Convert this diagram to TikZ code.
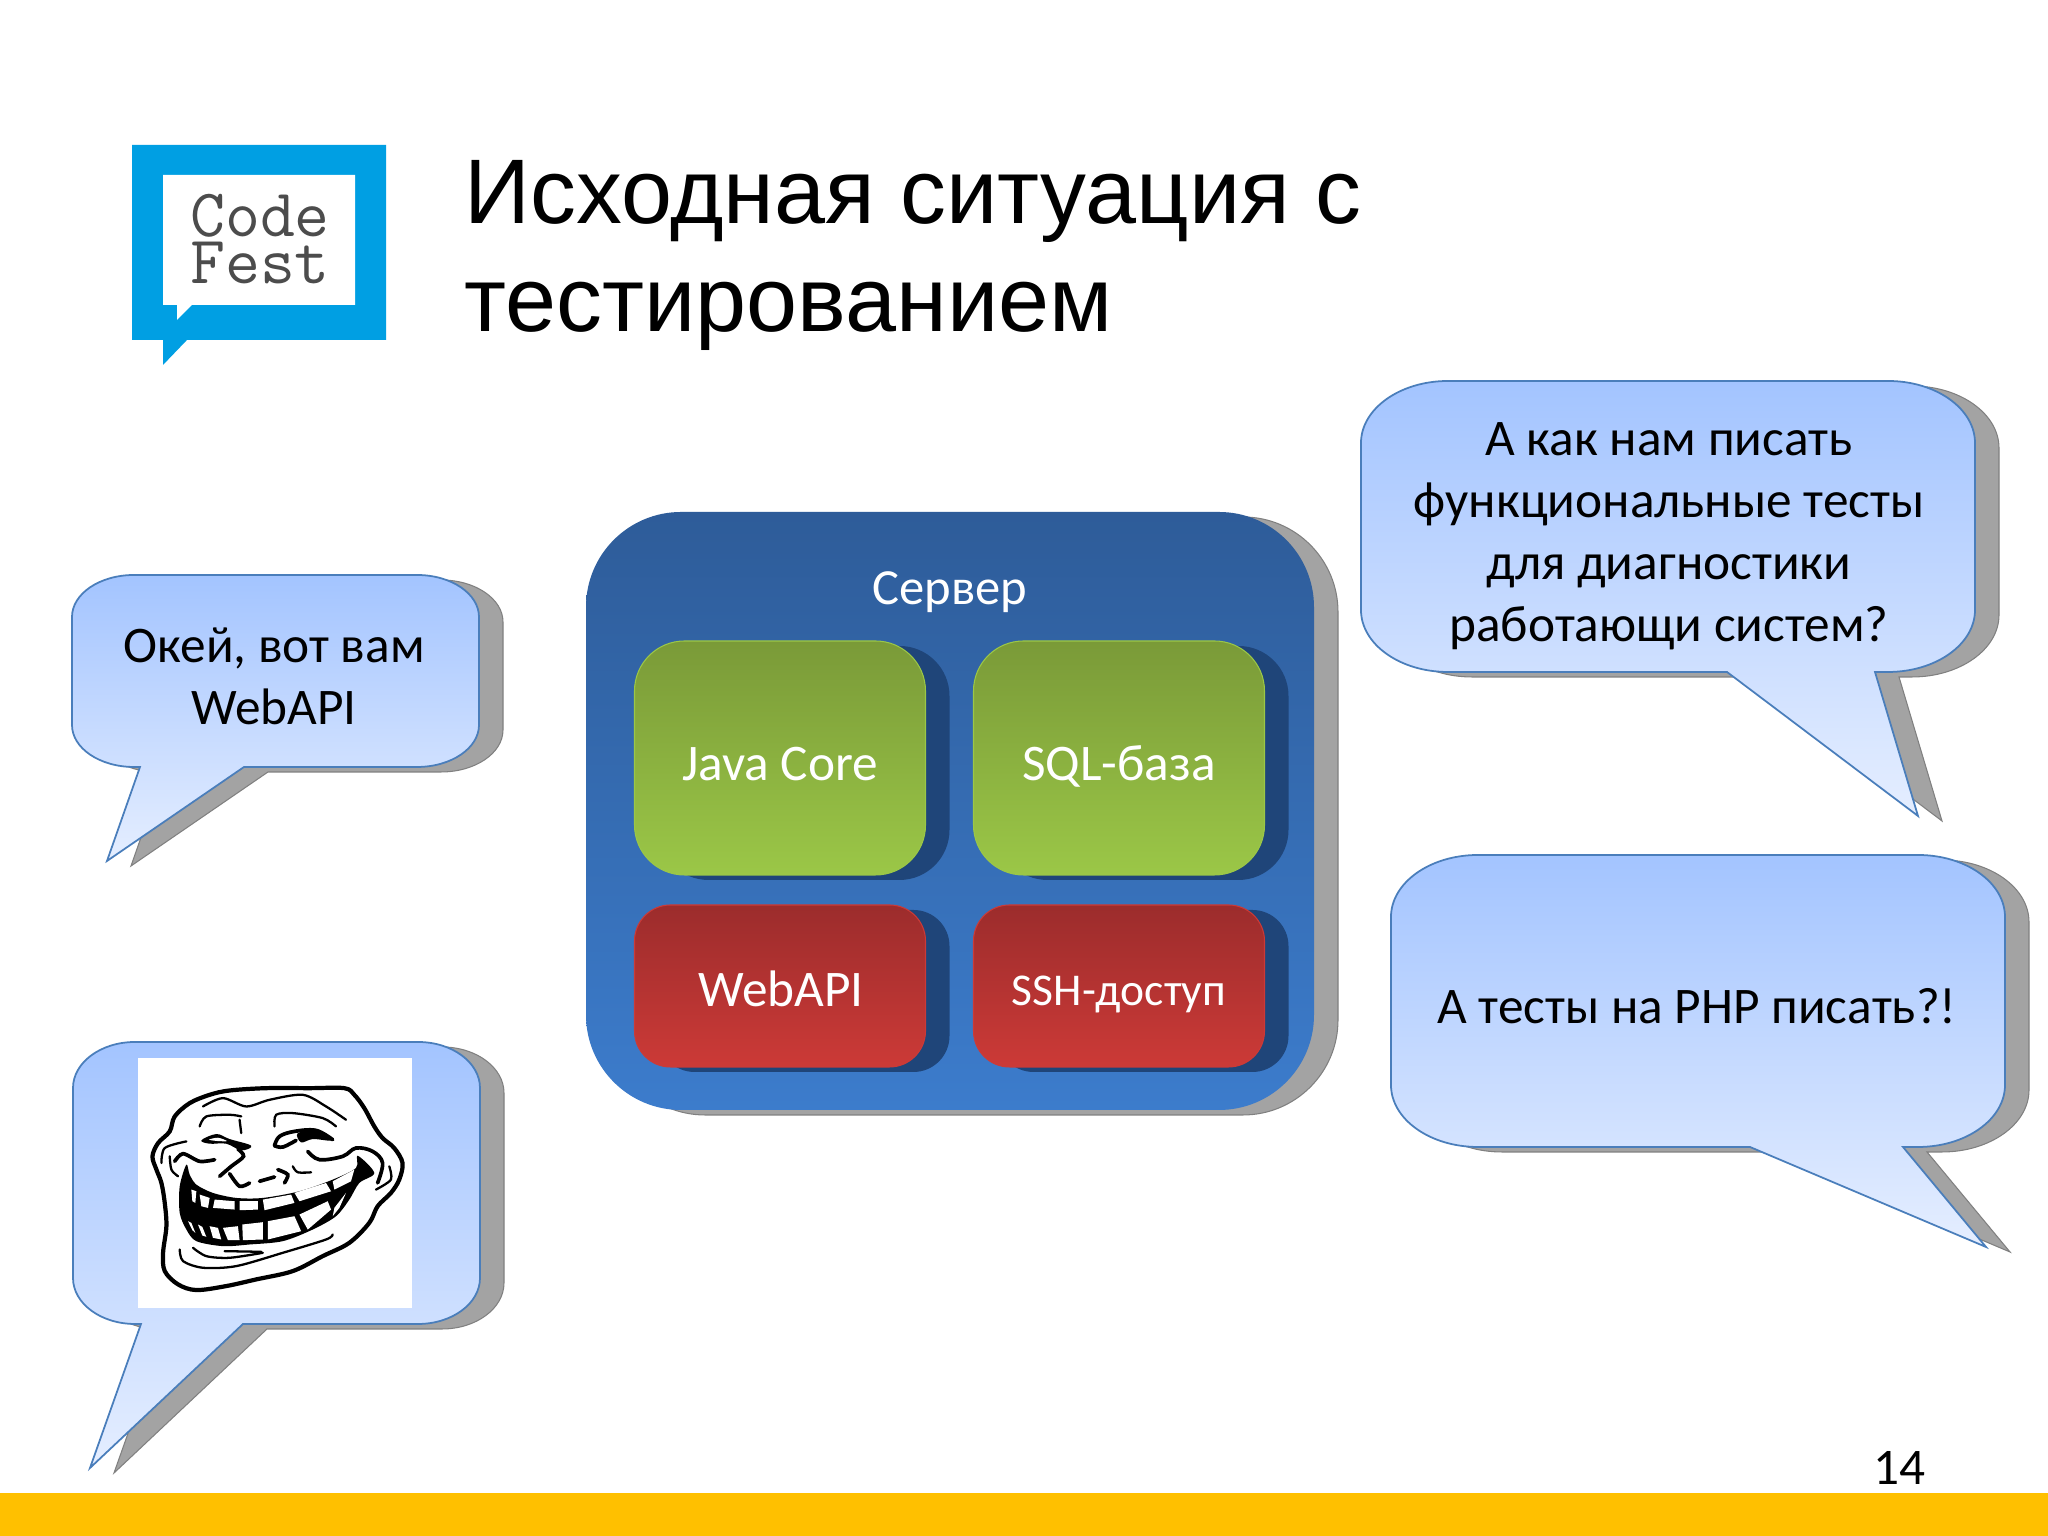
\documentclass[tikz,border=0pt]{standalone}
\usepackage{fontspec}
\usepackage{xcolor}
\setmainfont{Carlito}
\newfontfamily\titlefont{Liberation Sans}

\definecolor{logoblue}{HTML}{009FE3}
\definecolor{barcolor}{HTML}{FFC000}
\definecolor{bubbleline}{HTML}{4A7EBB}
\definecolor{bubbletop}{HTML}{A3C4FF}
\definecolor{bubblebottom}{HTML}{E5EEFF}
\definecolor{greyshadow}{HTML}{A3A3A3}
\definecolor{serverdark}{HTML}{2E5C99}
\definecolor{serverlight}{HTML}{3C7CCC}
\definecolor{navyshadow}{HTML}{1F4579}
\definecolor{greendark}{HTML}{7A9A38}
\definecolor{greenlight}{HTML}{9BC747}
\definecolor{reddark}{HTML}{9C2C2C}
\definecolor{redlight}{HTML}{CC3A37}

\tikzset{
  bodytext/.style={font=\fontsize{14.6}{17.6}\selectfont,align=center,inner sep=0},
  whitetext/.style={bodytext,text=white},
  bubbleshape/.style={draw=bubbleline,line width=.5pt,top color=bubbletop,bottom color=bubblebottom},
  bubbleshadow/.style={draw=gray,line width=.3pt,fill=greyshadow},
  serverbox/.style={rectangle,rounded corners=.95cm,inner sep=0,minimum width=7.28cm,minimum height=5.98cm},
  greenbox/.style={rectangle,rounded corners=.5cm,inner sep=0,minimum width=2.91cm,minimum height=2.34cm},
  redbox/.style={rectangle,rounded corners=.36cm,inner sep=0,minimum width=2.91cm,minimum height=1.62cm},
  greenfill/.style={top color=greendark,bottom color=greenlight,draw=greenlight,line width=.3pt},
  redfill/.style={top color=reddark,bottom color=redlight,draw=redlight,line width=.3pt},
  thickface/.style={line width=1.2pt,black,line join=round},
  midface/.style={line width=1.05pt,black,line cap=round},
  thinface/.style={line width=.65pt,black,line cap=round},
  tooth/.style={fill=white,draw=none}
}

% left, bottom, right, top, tail start, tip, tail end, x radius, y radius
\newcommand{\bubblepath}[9]{
  (#1+#8,#4) -- (#3-#8,#4)
  arc[start angle=90,end angle=0,x radius=#8,y radius=#9] -- (#3,#2+#9)
  arc[start angle=0,end angle=-90,x radius=#8,y radius=#9] -- (#7,#2) -- (#6) -- (#5,#2) -- (#1+#8,#2)
  arc[start angle=270,end angle=180,x radius=#8,y radius=#9] -- (#1,#4-#9)
  arc[start angle=180,end angle=90,x radius=#8,y radius=#9] -- cycle
}

\begin{document}
\begin{tikzpicture}
\useasboundingbox (0,0) rectangle (20.48,15.36);
\fill[white] (0,0) rectangle (20.48,15.36);
\fill[barcolor] (0,0) rectangle (20.48,.43);

\fill[logoblue] (1.32,13.91) -- (3.86,13.91) -- (3.86,11.96) -- (1.87,11.96) -- (1.63,11.71) -- (1.63,11.96) -- (1.32,11.96) -- cycle;
\fill[white] (1.63,13.61) -- (3.55,13.61) -- (3.55,12.31) -- (1.92,12.31) -- (1.77,12.16) -- (1.77,12.31) -- (1.63,12.31) -- cycle;
\draw (2.60,12.97) node[font=\ttfamily\fontsize{19.3}{13.6}\selectfont,text=black!70,align=center,inner sep=0](logotext) {Code\\Fest};

\draw (4.64,13.76) node[font=\titlefont\fontsize{26.1}{30.7}\selectfont,align=left,anchor=north west,inner sep=0](title) {Исходная ситуация с\\тестированием};

\draw[bubbleshadow,shift={(.24,-.05)}] \bubblepath{.72}{7.69}{4.79}{9.61}{1.40}{1.07,6.75}{2.44}{.62}{.42};
\draw[bubbleshape] \bubblepath{.72}{7.69}{4.79}{9.61}{1.40}{1.07,6.75}{2.44}{.62}{.42};
\draw (2.74,8.60) node[bodytext](okey) {Окей, вот вам\\WebAPI};

\draw[bubbleshadow,shift={(.24,-.05)}] \bubblepath{.73}{2.12}{4.80}{4.94}{1.41}{.90,.68}{2.43}{.62}{.46};
\draw[bubbleshape] \bubblepath{.73}{2.12}{4.80}{4.94}{1.41}{.90,.68}{2.43}{.62}{.46};
\fill[white] (1.38,2.28) rectangle (4.12,4.78);

\begin{scope}[shift={(.5,5.16)},x=.0033333cm,y=-.0033333cm]
\draw[thickface,fill=white] plot[smooth cycle,tension=.55] coordinates {(540,212) (650,205) (780,205) (885,205) (915,225) (945,265) (975,320) (1000,355) (1035,385) (1060,430) (1050,480) (1025,520) (985,560) (960,610) (900,670) (820,710) (730,755) (620,780) (530,800) (440,812) (385,795) (345,755) (340,700) (350,620) (345,550) (335,490) (320,450) (308,410) (325,370) (360,335) (375,290) (420,250) (480,225)};
\fill[black] plot[smooth cycle,tension=.5] coordinates {(410,435) (390,500) (390,580) (410,630) (440,665) (520,680) (600,675) (700,665) (790,630) (860,590) (900,540) (930,490) (975,460) (925,408) (920,445) (850,480) (750,515) (640,535) (560,535) (490,520) (440,495) (420,465)};
\foreach \toothpts in {{(425,510)--(440,515)--(437,550)--(428,545)},
  {(450,525)--(480,535)--(475,565)--(455,560)},
  {(495,540)--(555,545)--(555,570)--(490,565)},
  {(570,545)--(625,545)--(625,570)--(570,572)},
  {(640,540)--(725,525)--(735,550)--(645,572)},
  {(735,520)--(830,490)--(845,515)--(750,545)},
  {(850,485)--(915,450)--(905,485)--(855,510)},
  {(415,605)--(425,610)--(437,640)--(428,632)},
  {(445,615)--(458,622)--(470,652)--(458,648)},
  {(480,620)--(505,625)--(515,660)--(490,655)},
  {(520,625)--(565,620)--(570,662)--(535,662)},
  {(578,615)--(640,608)--(640,660)--(580,662)},
  {(655,605)--(735,590)--(755,635)--(655,660)},
  {(750,585)--(835,545)--(845,570)--(775,630)},
  {(855,565)--(890,520)--(870,565)--(850,590)}}
  \fill[tooth] \toothpts -- cycle;
\fill[black] plot[smooth cycle,tension=.6] coordinates {(455,362) (500,343) (540,358) (605,378) (575,392) (530,372) (480,372)};
\fill[white] plot[smooth cycle] coordinates {(478,360) (505,354) (532,364) (505,364)};
\draw[midface] plot[smooth,tension=.6] coordinates {(675,378) (690,350) (735,335) (800,332) (850,360)};
\draw[midface] plot[smooth,tension=.6] coordinates {(675,378) (700,382) (740,362)};
\fill[black] plot[smooth cycle,tension=.6] coordinates {(745,340) (800,335) (845,362) (790,358) (755,368)};
\draw[midface] plot[smooth,tension=.6] coordinates {(775,395) (810,420) (880,410) (920,385) (970,395) (1000,430) (985,490)};
\draw[midface] plot[smooth,tension=.5] coordinates {(375,425) (400,402) (450,425) (495,420)};
\draw[midface] plot[smooth,tension=.5] coordinates {(565,388) (582,410) (545,440) (510,470)};
\draw[midface] plot[smooth,tension=.5] coordinates {(540,462) (570,500) (600,490)};
\draw[midface] (630,485) -- (675,472);
\draw[midface] plot[smooth] coordinates {(685,450) (715,465) (705,490)};
\draw[thinface] plot[smooth] coordinates {(450,320) (470,290) (540,285) (575,290)};
\draw[thinface] plot[smooth] coordinates {(570,300) (575,340)};
\draw[thinface] plot[smooth] coordinates {(675,320) (680,285) (730,280) (820,295) (860,320)};
\draw[thinface] plot[smooth] coordinates {(460,260) (520,235) (590,260) (660,240) (760,225) (830,260) (890,300)};
\draw[thinface] plot[smooth] coordinates {(390,690) (400,725) (460,745) (560,740) (700,700) (830,660) (850,645)};
\draw[thinface] plot[smooth] coordinates {(430,685) (470,710) (540,715) (640,700)};
\draw[thinface] (525,695) -- (635,697);
\draw[thinface] plot[smooth] coordinates {(335,430) (345,385) (410,365)};
\draw[thinface] plot[smooth] coordinates {(730,440) (745,458) (785,458)};
\draw[thinface] plot[smooth] coordinates {(1020,440) (1025,480) (980,510)};
\draw[thinface] plot[smooth] coordinates {(360,410) (365,450) (385,470)};
\end{scope}

\draw (9.74,7.20) node[serverbox,fill=greyshadow,draw=gray,line width=.3pt](servershadow) {};
\draw (9.50,7.25) node[serverbox,top color=serverdark,bottom color=serverlight](server) {};
\draw (9.50,9.44) node[whitetext,font=\fontsize{14.4}{17}\selectfont](servertext) {Сервер};

\draw (8.04,7.73) node[greenbox,fill=navyshadow](javashadow) {};
\draw (11.43,7.73) node[greenbox,fill=navyshadow](sqlshadow) {};
\draw (8.04,5.45) node[redbox,fill=navyshadow](webshadow) {};
\draw (11.43,5.45) node[redbox,fill=navyshadow](sshshadow) {};
\draw (7.80,7.78) node[greenbox,greenfill](java) {};
\draw (11.19,7.78) node[greenbox,greenfill](sql) {};
\draw (7.80,5.50) node[redbox,redfill](webapi) {};
\draw (11.19,5.50) node[redbox,redfill](ssh) {};
\draw (7.80,7.72) node[whitetext](javatext) {Java Core};
\draw (11.19,7.70) node[whitetext](sqltext) {SQL-база};
\draw (7.81,5.47) node[whitetext](webapitext) {WebAPI};
\draw (11.19,5.42) node[whitetext,font=\fontsize{12.95}{15}\selectfont](sshtext) {SSH-доступ};

\draw[bubbleshadow,shift={(.24,-.05)}] \bubblepath{13.61}{8.64}{19.75}{11.55}{17.27}{19.18,7.20}{18.75}{.87}{.62};
\draw[bubbleshape] \bubblepath{13.61}{8.64}{19.75}{11.55}{17.27}{19.18,7.20}{18.75}{.87}{.62};
\draw (16.69,10.00) node[bodytext](questiona) {А как нам писать\\функциональные тесты\\для диагностики\\работающи систем?};

\draw[bubbleshadow,shift={(.24,-.05)}] \bubblepath{13.91}{3.89}{20.05}{6.81}{17.50}{19.86,2.89}{19.03}{.87}{.62};
\draw[bubbleshape] \bubblepath{13.91}{3.89}{20.05}{6.81}{17.50}{19.86,2.89}{19.03}{.87}{.62};
\draw (16.97,5.30) node[bodytext](questionb) {А тесты на PHP писать?!};

\draw (18.99,.68) node[bodytext](pagenum) {14};
\end{tikzpicture}
\end{document}
